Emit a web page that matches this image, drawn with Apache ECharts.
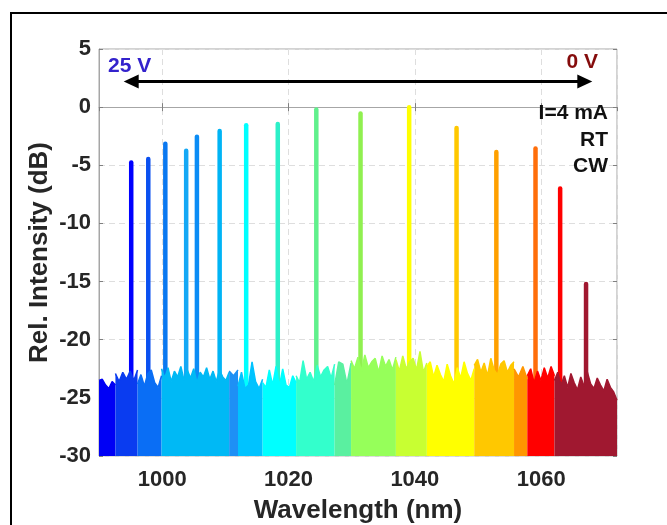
<!DOCTYPE html>
<html>
<head>
<meta charset="utf-8">
<script src="https://cdn.jsdelivr.net/npm/echarts@6/dist/echarts.min.js"></script>
<style>html,body{margin:0;padding:0;background:#fff;}#c{width:667px;height:525px;}</style>
</head>
<body>
<div id="c"></div>
<script>
// ---- Data ----
const xTickLabels = [1000, 1020, 1040, 1060];
const yTickLabels = [5, 0, -5, -10, -15, -20, -25, -30];

// Lasing peaks (one spectrum per bias voltage, 25 V -> 0 V)
const peakWl = [995.1, 997.8, 1000.5, 1003.8, 1005.5, 1009.1, 1013.3, 1018.3, 1024.4, 1031.4, 1039.1, 1046.6, 1052.9, 1059.1, 1063.0, 1067.1];
const peakDb = [-4.75, -4.45, -3.15, -3.75, -2.55, -2.05, -1.55, -1.45, -0.2, -0.55, 0.0, -1.8, -3.85, -3.55, -7.0, -15.2];
const peakColors = ['#0000ff', '#0a50f0', '#0a78f0', '#14a8f5', '#0a8cf5', '#00b4f5', '#00ffff', '#2cf0c8', '#60f08c', '#90f050', '#ffff00', '#ffc800', '#ffa000', '#ff6e0a', '#ff0000', '#a01830'];

// Visible noise-floor bands (wavelength edges, colours, noise levels in dB)
const bandEdges = [990, 992.6, 996.1, 999.9, 1010.6, 1012.0, 1015.9, 1021.2, 1027.3, 1029.9, 1037.0, 1041.9, 1049.4, 1055.7, 1057.8, 1062.1, 1072];
const bandColors = ['#0000f5', '#0a3cf0', '#0a6ef5', '#00b9f5', '#1e90f5', '#00c3ff', '#00ffff', '#33ffcc', '#5af0a0', '#96ff5a', '#c8ff32', '#ffff00', '#ffc800', '#ff9600', '#ff0000', '#a01830'];
const noise0 = [-23.5, -23.4, -23.9, -24.2, -23.6, -23.9];
const noise1 = [-22.9, -23.6, -22.8, -23.4, -22.7, -23.5, -22.6];
const noise2 = [-23.8, -23.0, -24.0, -22.9, -22.6, -23.7, -24.1, -23.1];
const noise3 = [-22.5, -23.3, -22.4, -23.6, -22.7, -23.2, -22.3, -23.5, -22.6, -23.3, -22.5, -23.7, -22.8, -23.2, -22.4, -23.4, -22.7, -23.6, -22.6, -23.2, -23.5, -22.8];
const noise4 = [-22.7, -23.1, -22.6];
const noise5 = [-24.0, -22.8, -24.2, -23.9, -21.9, -23.6, -24.2, -23.4];
const noise6 = [-23.7, -24.1, -22.6, -23.9, -22.3, -24.0, -22.5, -23.9, -24.1, -23.1, -23.7];
const noise7 = [-23.1, -23.7, -21.8, -23.4, -22.8, -23.6, -22.2, -23.2, -22.6, -22.3, -23.3, -22.1];
const noise8 = [-23.9, -21.9, -22.1, -23.8, -22.0];
const noise9 = [-21.8, -22.5, -21.5, -22.7, -21.3, -22.4, -21.9, -21.6, -22.8, -21.4, -22.3, -21.7, -22.6, -21.5];
const noise10 = [-21.7, -22.7, -21.4, -22.5, -21.9, -21.6, -22.6, -21.0, -22.8, -22.0];
const noise11 = [-22.3, -21.9, -23.2, -22.2, -23.0, -23.6, -22.1, -23.1, -23.8, -22.4, -23.3, -21.9, -22.9, -23.5, -22.5];
const noise12 = [-22.2, -21.7, -22.8, -22.0, -23.1, -21.6, -22.6, -23.0, -22.1, -21.8, -22.8, -22.2, -21.9];
const noise13 = [-22.5, -23.2, -22.3, -23.4];
const noise14 = [-23.1, -22.5, -23.7, -22.7, -23.5, -22.4, -23.3, -22.3, -23.1];
const noise15 = [-23.5, -22.8, -23.9, -23.1, -24.1, -22.9, -23.7, -24.3, -23.2, -24.0, -22.8, -23.8, -24.2, -23.3, -23.9, -24.4, -23.4, -24.1, -24.5, -25.2];
const bandNoise = [noise0, noise1, noise2, noise3, noise4, noise5, noise6, noise7, noise8, noise9, noise10, noise11, noise12, noise13, noise14, noise15];

// Annotation texts
const leftLabel = '25 V', rightLabel = '0 V';
const condLabels = ['I=4 mA', 'RT', 'CW'];
const arrowY = 2.2, arrowFrom = 995.1, arrowTo = 1066.9;

// ---- Chart ----
const FONT = '"Liberation Sans", Arial, sans-serif';
const chart = echarts.init(document.getElementById('c'), null, {renderer: 'canvas'});
const series = [];

// spikes (behind the noise floor)
peakWl.forEach((wl, i) => {
  series.push({
    type: 'line', symbol: 'none', silent: true, animation: false, z: 1,
    data: [[wl, -29.5], [wl, peakDb[i]]],
    lineStyle: {width: 4.5, color: peakColors[i], cap: 'round'}
  });
});

// noise bands
bandNoise.forEach((vals, b) => {
  const e0 = bandEdges[b], e1 = bandEdges[b + 1];
  const pts = vals.map((v, k) => [e0 + (e1 - e0) * k / (vals.length - 1), v]);
  series.push({
    type: 'line', symbol: 'none', silent: true, animation: false, z: 3,
    data: pts,
    lineStyle: {width: 1.5, color: bandColors[b]},
    areaStyle: {color: bandColors[b], opacity: 1, origin: 'start'}
  });
});

// double arrow
series.push({
  type: 'line', data: [], silent: true, animation: false, z: 5,
  markLine: {
    silent: true, animation: false,
    symbol: ['triangle', 'triangle'], symbolSize: [14, 15],
    label: {show: false},
    lineStyle: {color: '#000', width: 3, type: 'solid'},
    data: [[{coord: [arrowFrom, arrowY]}, {coord: [arrowTo, arrowY]}]]
  }
});

const axisLabelStyle = {fontFamily: FONT, fontWeight: 'bold', fontSize: 22, color: '#262626'};

chart.setOption({
  animation: false,
  backgroundColor: '#fff',
  grid: {left: 99, right: 50, top: 49, bottom: 69, show: true, borderColor: '#a6a6a6', borderWidth: 1,
    backgroundColor: 'transparent', containLabel: false, outerBoundsMode: 'none'},
  xAxis: [{
    type: 'value', min: 990, max: 1072, splitNumber: 4,
    axisLine: {show: true, lineStyle: {color: '#a6a6a6'}},
    axisTick: {show: true, inside: true, length: 4, lineStyle: {color: '#808080'}},
    axisLabel: Object.assign({margin: 13, showMinLabel: false, showMaxLabel: false,
      formatter: v => xTickLabels.indexOf(v) >= 0 ? String(v) : ''}, axisLabelStyle),
    splitLine: {show: true, lineStyle: {color: '#dedede', type: [6, 4], width: 1}},
    name: 'Wavelength (nm)', nameLocation: 'middle', nameGap: 42, nameMoveOverlap: false,
    nameTextStyle: {fontFamily: FONT, fontWeight: 'bold', fontSize: 26, color: '#262626'}
  }, {
    type: 'value', min: 990, max: 1072, splitNumber: 4, position: 'top',
    axisLine: {show: false}, axisLabel: {show: false}, splitLine: {show: false},
    axisTick: {show: true, inside: true, length: 4, lineStyle: {color: '#808080'}}
  }],
  yAxis: [{
    type: 'value', min: -30, max: 5, interval: 5,
    axisLine: {show: true, lineStyle: {color: '#a6a6a6'}},
    axisTick: {show: true, inside: true, length: 4, lineStyle: {color: '#808080'}},
    axisLabel: Object.assign({margin: 8,
      formatter: v => yTickLabels.indexOf(v) >= 0 ? String(v) : ''}, axisLabelStyle),
    splitLine: {show: true, lineStyle: {color: '#dedede', type: [6, 4], width: 1}},
    name: 'Rel. Intensity (dB)', nameLocation: 'middle', nameGap: 46, nameMoveOverlap: false,
    nameTextStyle: {fontFamily: FONT, fontWeight: 'bold', fontSize: 26, color: '#262626'}
  }, {
    type: 'value', min: -30, max: 5, interval: 5, position: 'right',
    axisLine: {show: false}, axisLabel: {show: false}, splitLine: {show: false},
    axisTick: {show: true, inside: true, length: 4, lineStyle: {color: '#808080'}}
  }],
  series: series,
  graphic: [
    {type: 'rect', shape: {x: 11, y: 13, width: 700, height: 560}, style: {fill: 'none', stroke: '#000', lineWidth: 2}, silent: true, z: 100},
    {type: 'text', left: 108, top: 56, style: {text: leftLabel, fill: '#3322cc', font: 'bold 21px ' + FONT}, z: 100},
    {type: 'text', right: 69, top: 52, style: {text: rightLabel, fill: '#850c0c', font: 'bold 21px ' + FONT}, z: 100},
    {type: 'text', right: 59, top: 103, style: {text: condLabels[0], fill: '#111', font: 'bold 21px ' + FONT, textAlign: 'right'}, z: 100},
    {type: 'text', right: 59, top: 130, style: {text: condLabels[1], fill: '#111', font: 'bold 21px ' + FONT, textAlign: 'right'}, z: 100},
    {type: 'text', right: 59, top: 156, style: {text: condLabels[2], fill: '#111', font: 'bold 21px ' + FONT, textAlign: 'right'}, z: 100}
  ]
});
</script>
</body>
</html>
